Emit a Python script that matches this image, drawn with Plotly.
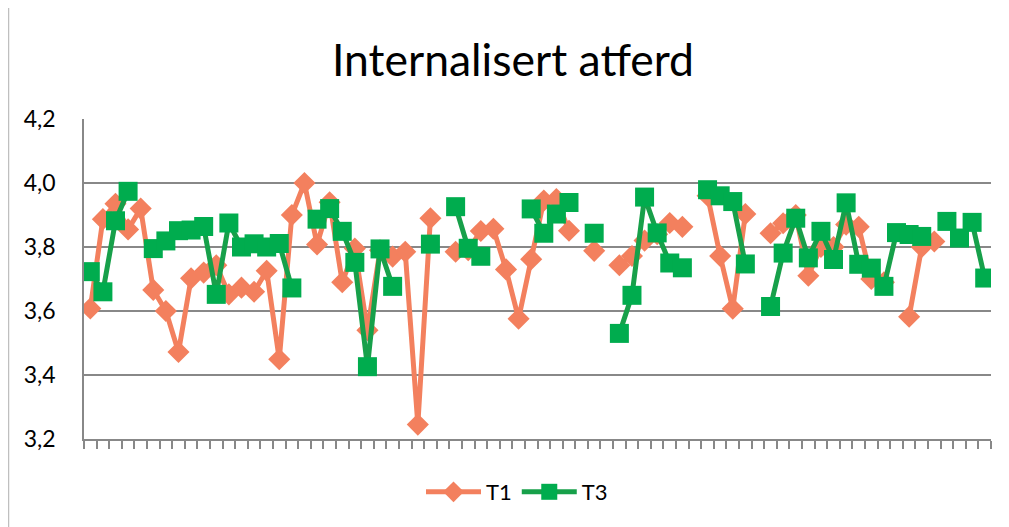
import plotly.graph_objects as go

categories = list(range(72))

t1 = [3.608, 3.887, 3.935, 3.855, 3.920, 3.666, 3.600, 3.472, 3.702, 3.720,
      3.743, 3.652, 3.673, 3.660, 3.726, 3.449, 3.900, 4.000, 3.808, 3.940,
      3.690, 3.795, 3.540, 3.790, 3.770, 3.785, 3.245, 3.890, None, 3.785,
      3.790, 3.850, 3.857, 3.730, 3.576, 3.762, 3.945, 3.950, 3.851, None,
      3.788, None, 3.743, 3.772, 3.820, 3.840, 3.875, 3.863, None, 3.960,
      3.772, 3.607, 3.903, None, 3.843, 3.874, 3.900, 3.710, 3.800, 3.800,
      3.870, 3.863, 3.700, 3.690, None, 3.582, 3.800, 3.817, None, None,
      None, None]

t3 = [3.723, 3.660, 3.882, 3.974, None, 3.795, 3.819, 3.851, 3.853, 3.864,
      3.652, 3.875, 3.800, 3.810, 3.800, 3.811, 3.672, None, 3.887, 3.920,
      3.849, 3.752, 3.426, 3.794, 3.677, None, None, 3.809, None, 3.926,
      3.796, 3.771, None, None, None, 3.919, 3.843, 3.903, 3.939, None,
      3.843, None, 3.530, 3.649, 3.956, 3.844, 3.750, 3.735, None, 3.979,
      3.960, 3.942, 3.747, None, 3.614, 3.781, 3.890, 3.766, 3.849, 3.761,
      3.938, 3.746, 3.734, 3.677, 3.845, 3.839, 3.833, None, 3.880, 3.828,
      3.877, 3.703]

y_ticks = [3.2, 3.4, 3.6, 3.8, 4.0, 4.2]

ORANGE = "#F3805E"
GREEN_M = "#00AC4E"
GREEN_L = "#17A04A"
GRID = "#888888"
FONT = "Lato"

# page has an 8px body margin: work in page coordinates, convert to figure coords
OFF = 8
PAGE_W, PAGE_H = 1009, 527
W, H = PAGE_W - OFF, PAGE_H - OFF
plot_left, plot_right, plot_top, plot_bottom = 84, 991, 119, 439
ml = plot_left - OFF
mt = plot_top - OFF
mr = PAGE_W - plot_right
mb = PAGE_H - plot_bottom
pw, ph = plot_right - plot_left, plot_bottom - plot_top


def px_x(x):
    return (x - plot_left) / pw


def px_y(y):
    return (plot_bottom - y) / ph


fig = go.Figure()
fig.add_trace(go.Scatter(
    x=categories, y=t1, name="T1", mode="lines+markers",
    line=dict(color=ORANGE, width=5), connectgaps=False,
    marker=dict(symbol="diamond", size=17, color=ORANGE),
))
fig.add_trace(go.Scatter(
    x=categories, y=t3, name="T3", mode="lines+markers",
    line=dict(color=GREEN_L, width=5), connectgaps=False,
    marker=dict(symbol="square", size=19, color=GREEN_M),
))

fig.add_shape(type="rect", xref="paper", yref="paper",
              x0=px_x(8.5), x1=px_x(1004.5),
              y0=px_y(560), y1=px_y(-20),
              line=dict(color="#BFBFBF", width=1.5), fillcolor="rgba(0,0,0,0)",
              layer="below")

fig.update_layout(
    width=W, height=H,
    margin=dict(l=ml, r=mr, t=mt, b=mb, pad=0),
    paper_bgcolor="white", plot_bgcolor="white",
    separators=",.",
    font=dict(family=FONT, color="#000000"),
    title=dict(text="Internalisert atferd", x=px_x(513) * pw / W + ml / W,
               xanchor="center",
               y=1 - (60 - OFF) / H, yanchor="middle", yref="container",
               font=dict(size=44.5, family=FONT, color="#000000")),
    showlegend=True,
    legend=dict(orientation="h", x=px_x(517), xanchor="center", y=px_y(492),
                yanchor="middle", font=dict(size=22, family=FONT),
                itemwidth=55),
    xaxis=dict(range=[-0.5, 71.5], tickmode="array",
               tickvals=[i - 0.5 for i in range(73)], showticklabels=False,
               ticks="outside", ticklen=8, tickwidth=1.5, tickcolor=GRID,
               showgrid=False, zeroline=False, showline=True,
               linecolor=GRID, linewidth=1.5),
    yaxis=dict(range=[3.2, 4.2], tickmode="array", tickvals=y_ticks,
               tickformat=".1f", showgrid=True, gridcolor=GRID, gridwidth=1.5,
               zeroline=False, showline=True, linecolor=GRID, linewidth=1.5,
               ticks="", ticklabelstandoff=22,
               tickfont=dict(size=23, family=FONT, color="#000000")),
)

fig.write_html("out.html")
